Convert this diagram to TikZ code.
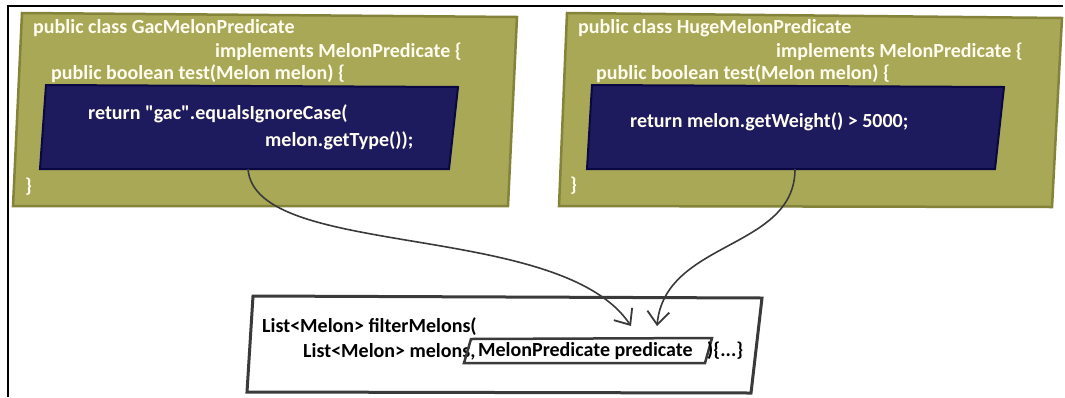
\documentclass[tikz,border=0pt]{standalone}
\usepackage{fontspec}
\setmainfont{Carlito}
\usetikzlibrary{arrows.meta}
\definecolor{olivefill}{HTML}{A9A857}
\definecolor{olivedark}{HTML}{84833A}
\definecolor{navyfill}{HTML}{1E1A5E}
\definecolor{navydark}{HTML}{0A0842}
\definecolor{cream}{HTML}{FFFDF0}
\definecolor{framegray}{HTML}{3A3A3A}
\tikzset{
  outerbox/.style={fill=olivefill, draw=olivedark, line width=2.5pt, line join=miter},
  innerbox/.style={fill=navyfill, draw=navydark, line width=2pt, line join=miter},
  callbox/.style={fill=white, draw=framegray, line width=3pt, line join=miter},
  parambox/.style={draw=framegray, line width=2.5pt, line join=miter},
  code/.style={font=\bfseries\fontsize{20}{20}\selectfont, anchor=west, inner sep=0pt},
  lightcode/.style={code, text=cream},
  darkcode/.style={code, text=black},
  link/.style={draw=framegray, line width=1.6pt, -{Straight Barb[length=13pt,width=22pt,line width=1.8pt]}},
}
\begin{document}
\begin{tikzpicture}[x=1pt,y=-1pt]
\useasboundingbox (0,0) rectangle (1065,397);
% frame (top and left edges)
\draw[line width=2.2pt, black] (8,397) -- (8,6) -- (1063,6);

% left class
\draw[outerbox] (22,13) -- (517,17) -- (508,206) -- (13,206) -- cycle;
\draw[innerbox] (46,85) -- (458,87) -- (449,169) -- (40,169) -- cycle;
\coordinate (gacout) at (248,169);
\node[lightcode] (g1) at (33,28) {public class GacMelonPredicate};
\node[lightcode] (g2) at (215,52) {implements MelonPredicate \{};
\node[lightcode] (g3) at (51,74) {public boolean test(Melon melon) \{};
\node[lightcode] (g4) at (88,114) {return \textquotedbl gac\textquotedbl.equalsIgnoreCase(};
\node[lightcode] (g5) at (265,141) {melon.getType());};
\node[lightcode] (g6) at (25,187) {\}};

% right class
\draw[outerbox] (567,13) -- (1062,18) -- (1052,207) -- (559,206) -- cycle;
\draw[innerbox] (592,85) -- (1004,87) -- (995,169) -- (587,169) -- cycle;
\coordinate (hugeout) at (795,169);
\node[lightcode] (h1) at (578,28) {public class HugeMelonPredicate};
\node[lightcode] (h2) at (776,52) {implements MelonPredicate \{};
\node[lightcode] (h3) at (596,74) {public boolean test(Melon melon) \{};
\node[lightcode] (h4) at (630,122) {return melon.getWeight() > 5000;};
\node[lightcode] (h5) at (570,186) {\}};

% filter method
\draw[callbox] (253,296) -- (762,298) -- (751,393) -- (247,392) -- cycle;
\node[darkcode] (f1) at (262,327) {List<Melon> filterMelons(};
\node[darkcode] (f2) at (303,352) {List<Melon> melons,};
\draw[parambox] (471,339) -- (712,338) -- (705,363) -- (464,363) -- cycle;
\node[darkcode] (f3) at (478,351) {MelonPredicate predicate};
\node[darkcode] (f4) at (707,351) {)\{...\}};
\coordinate (tipa) at (631,326);
\coordinate (tipb) at (657,326);

% connectors
\draw[link] (gacout) .. controls (255,260) and (560,220) .. (tipa);
\draw[link] (hugeout) .. controls (795,250) and (665,240) .. (tipb);
\end{tikzpicture}
\end{document}
